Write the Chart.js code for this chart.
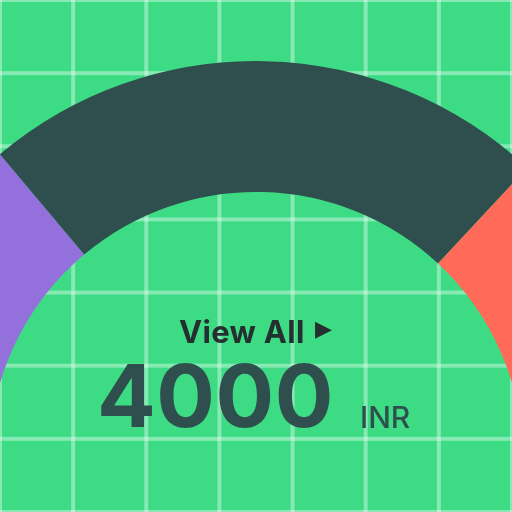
<!DOCTYPE html>
<html>
<head>
<meta charset="utf-8">
<script src="https://cdn.jsdelivr.net/npm/chart.js@4"></script>
<style>
  html, body { margin: 0; padding: 0; }
  body {
    width: 512px; height: 512px; overflow: hidden; position: relative;
    background-color: #3ddc84;
    background-image:
      linear-gradient(to right, rgba(255,255,255,0.38) 0, rgba(255,255,255,0.38) 2.4px, transparent 2.4px, transparent calc(100% - 2.4px), rgba(255,255,255,0.38) calc(100% - 2.4px)),
      linear-gradient(to bottom, rgba(255,255,255,0.38) 0, rgba(255,255,255,0.38) 2.4px, transparent 2.4px, transparent calc(100% - 2.4px), rgba(255,255,255,0.38) calc(100% - 2.4px));
    background-size: 73.142857px 73.142857px;
    background-position: 0 0;
    font-family: Inter, "Noto Sans", sans-serif;
  }
  #wrap { position: absolute; left: -142px; top: 61px; width: 796px; height: 796px; }
  .t { position: absolute; line-height: 1; white-space: nowrap; color: #2f4f4f; }
  #view { left: 179px; top: 316px; font-size: 31px; font-weight: 700; letter-spacing: 0.3px; color: #243030; }
  #arrow { position: absolute; left: 315px; top: 318px; font-size: 22px; line-height: 1; color: #243030; font-family: "DejaVu Sans", sans-serif; }
  #amount { left: 97px; top: 352px; font-size: 87px; font-weight: 700; letter-spacing: 0.5px; }
  #cur { left: 360px; top: 402px; font-size: 30px; font-weight: 500; }
</style>
</head>
<body>
<div id="wrap"><canvas id="c" width="796" height="796"></canvas></div>
<div class="t" id="view">View All</div>
<div id="arrow">▶</div>
<div class="t" id="amount">4000</div>
<div class="t" id="cur">INR</div>
<script>
const categories = ["Segment A", "Segment B", "Segment C"];
const values = [1110, 1845, 1045];
const colors = ["#9370db", "#2f4f4f", "#ff6a59"];
const totalLabel = "4000";

const total = values.reduce((a, b) => a + b, 0);
new Chart(document.getElementById("c"), {
  type: "doughnut",
  data: {
    labels: categories.concat([""]),
    datasets: [{
      data: values.concat([total]),
      backgroundColor: colors.concat(["rgba(0,0,0,0)"]),
      borderWidth: 0,
      hoverOffset: 0
    }]
  },
  options: {
    responsive: false,
    animation: false,
    rotation: -90,
    cutout: "67.1%",
    layout: { padding: 0 },
    events: [],
    plugins: { legend: { display: false }, tooltip: { enabled: false } }
  }
});
</script>
</body>
</html>
